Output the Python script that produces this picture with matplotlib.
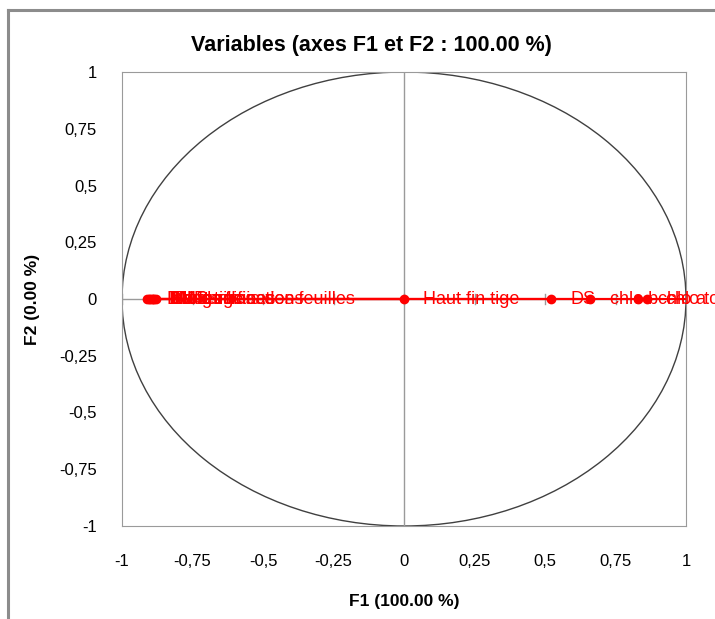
import numpy as np
import matplotlib.pyplot as plt
from matplotlib.patches import Ellipse

# variable coordinates on F1 / F2
var_names = ["DMF", "DMS", "Nb feuilles", "Haut tige", "Long racines",
             "Nb ramifications", "Poids frais des feuilles",
             "Haut fin tige", "DS", "chlo b", "chlo a", "chlo tot"]
f1 = [-0.91, -0.905, -0.90, -0.895, -0.89, -0.885, -0.88,
      0.0, 0.52, 0.66, 0.83, 0.86]
f2 = [0.0] * len(f1)

ticks = [-1, -0.75, -0.5, -0.25, 0, 0.25, 0.5, 0.75, 1]
tick_labels = ["-1", "-0,75", "-0,5", "-0,25", "0", "0,25", "0,5", "0,75", "1"]

plt.rcParams['font.family'] = ['Liberation Sans', 'DejaVu Sans']

fig = plt.figure(figsize=(7.15, 6.19), dpi=100)
ax = fig.add_axes([122 / 715, 93 / 619, 564 / 715, 454 / 619])

# outer frame (left and top edges visible)
fig.add_artist(plt.Line2D([8 / 715, 8 / 715], [0, 609 / 619], color='#8c8c8c', lw=2.2))
fig.add_artist(plt.Line2D([8 / 715, 1], [609 / 619, 609 / 619], color='#8c8c8c', lw=2.2))

ax.add_patch(Ellipse((0, 0), 2, 2, fill=False, color='#404040', lw=1))
ax.axhline(0, color='#9a9a9a', lw=1)
ax.axvline(0, color='#9a9a9a', lw=1)
# small tick marks on the horizontal axis line
for t in ticks:
    ax.plot([t, t], [-0.02, 0.02], color='#9a9a9a', lw=1)

for x, y, name in zip(f1, f2, var_names):
    ax.plot([0, x], [0, y], color='red', lw=1.5)
    ax.plot(x, y, 'o', color='red', ms=6)
    ax.annotate(name, (x, y), xytext=(14, 0), textcoords='offset points',
                color='red', fontsize=13, va='center', ha='left',
                annotation_clip=False)
# the vector line runs on to the circle edge on the right
ax.plot([max(f1), 1], [0, 0], color='red', lw=1.5)

ax.set_xlim(-1, 1)
ax.set_ylim(-1, 1)
ax.set_xticks(ticks)
ax.set_xticklabels(tick_labels)
ax.set_yticks(ticks)
ax.set_yticklabels(tick_labels)
ax.tick_params(length=0, labelsize=12, colors='black')
ax.tick_params(axis='x', pad=20)
ax.tick_params(axis='y', pad=18)
for s in ax.spines.values():
    s.set_color('#9a9a9a')

fig.text(371 / 715, 1 - 45 / 619, "Variables (axes F1 et F2 : 100.00 %)",
         fontsize=15.5, fontweight='bold', ha='center', va='center')
ax.set_xlabel("F1 (100.00 %)", fontsize=12.5, fontweight='bold', labelpad=18)
ax.set_ylabel("F2 (0.00 %)", fontsize=12.5, fontweight='bold', labelpad=14)

fig.savefig("out.png", dpi=100)
